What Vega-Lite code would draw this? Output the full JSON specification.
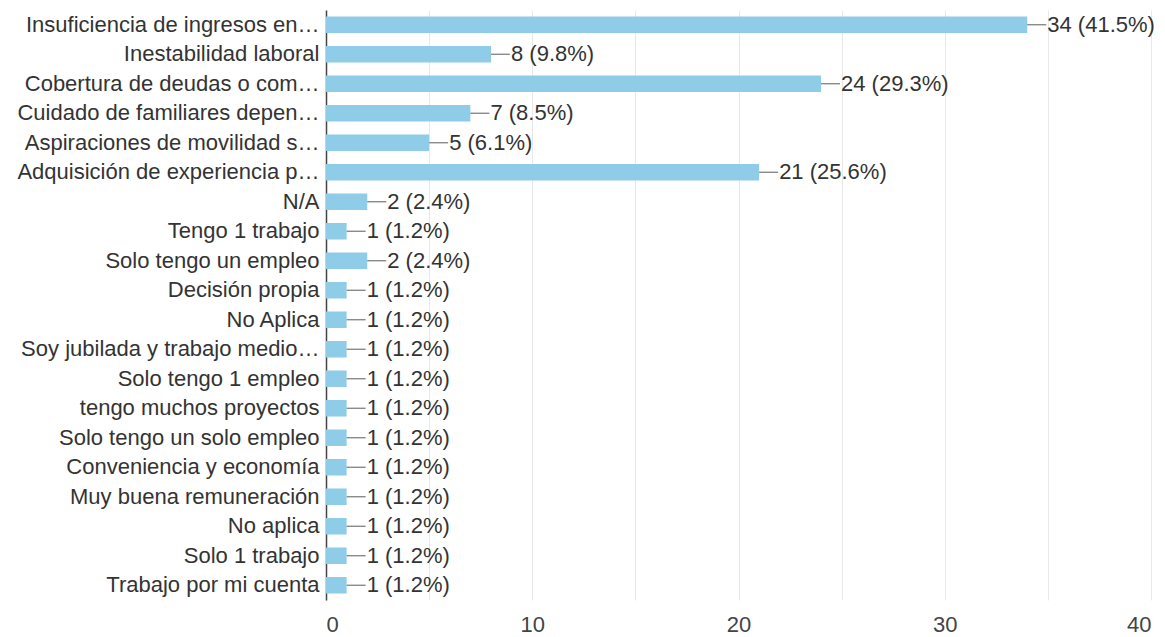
{
  "$schema": "https://vega.github.io/schema/vega-lite/v6.json",
  "autosize": {"type": "none"},
  "width": 825,
  "height": 590,
  "padding": {"left": 326, "top": 10, "right": 14, "bottom": 37},
  "background": "#ffffff",
  "config": {
    "view": {"stroke": null},
    "font": "Liberation Sans"
  },
  "data": {
    "values": [
      {"motivo": "Insuficiencia de ingresos en…", "n": 34, "etiqueta": "34 (41.5%)"},
      {"motivo": "Inestabilidad laboral", "n": 8, "etiqueta": "8 (9.8%)"},
      {"motivo": "Cobertura de deudas o com…", "n": 24, "etiqueta": "24 (29.3%)"},
      {"motivo": "Cuidado de familiares depen…", "n": 7, "etiqueta": "7 (8.5%)"},
      {"motivo": "Aspiraciones de movilidad s…", "n": 5, "etiqueta": "5 (6.1%)"},
      {"motivo": "Adquisición de experiencia p…", "n": 21, "etiqueta": "21 (25.6%)"},
      {"motivo": "N/A", "n": 2, "etiqueta": "2 (2.4%)"},
      {"motivo": "Tengo 1 trabajo", "n": 1, "etiqueta": "1 (1.2%)"},
      {"motivo": "Solo tengo un empleo", "n": 2, "etiqueta": "2 (2.4%)"},
      {"motivo": "Decisión propia", "n": 1, "etiqueta": "1 (1.2%)"},
      {"motivo": "No Aplica", "n": 1, "etiqueta": "1 (1.2%)"},
      {"motivo": "Soy jubilada y trabajo medio…", "n": 1, "etiqueta": "1 (1.2%)"},
      {"motivo": "Solo tengo 1 empleo", "n": 1, "etiqueta": "1 (1.2%)"},
      {"motivo": "tengo muchos proyectos", "n": 1, "etiqueta": "1 (1.2%)"},
      {"motivo": "Solo tengo un solo empleo", "n": 1, "etiqueta": "1 (1.2%)"},
      {"motivo": "Conveniencia y economía", "n": 1, "etiqueta": "1 (1.2%)"},
      {"motivo": "Muy buena remuneración", "n": 1, "etiqueta": "1 (1.2%)"},
      {"motivo": "No aplica", "n": 1, "etiqueta": "1 (1.2%)"},
      {"motivo": "Solo 1 trabajo", "n": 1, "etiqueta": "1 (1.2%)"},
      {"motivo": "Trabajo por mi cuenta", "n": 1, "etiqueta": "1 (1.2%)"}
    ]
  },
  "encoding": {
    "y": {
      "field": "motivo",
      "type": "nominal",
      "sort": null,
      "scale": {"paddingInner": 0.44, "paddingOuter": 0.22},
      "axis": {
        "title": null,
        "ticks": false,
        "domain": true,
        "domainColor": "#444444",
        "domainWidth": 1.5,
        "labelFontSize": 22,
        "labelColor": "#333333",
        "labelPadding": 7,
        "labelLimit": 0,
        "grid": false
      }
    }
  },
  "layer": [
    {
      "mark": {"type": "bar", "color": "#8fcce8"},
      "encoding": {
        "x": {
          "field": "n",
          "type": "quantitative",
          "scale": {"domain": [0, 40], "nice": false},
          "axis": {
            "title": null,
            "values": [0, 5, 10, 15, 20, 25, 30, 35, 40],
            "labelExpr": "datum.value % 10 === 0 ? datum.label : ''",
            "gridColor": "#e8e8e8",
            "domain": false,
            "ticks": false,
            "labelFontSize": 22,
            "labelColor": "#444444",
            "labelPadding": 14
          }
        }
      }
    },
    {
      "mark": {"type": "rule", "x2Offset": 19, "color": "#777777", "strokeWidth": 1.2},
      "encoding": {
        "x": {"field": "n", "type": "quantitative"},
        "x2": {"field": "n"}
      }
    },
    {
      "mark": {"type": "text", "align": "left", "baseline": "middle", "dx": 20, "fontSize": 22, "color": "#333333"},
      "encoding": {
        "x": {"field": "n", "type": "quantitative"},
        "text": {"field": "etiqueta"}
      }
    }
  ]
}
